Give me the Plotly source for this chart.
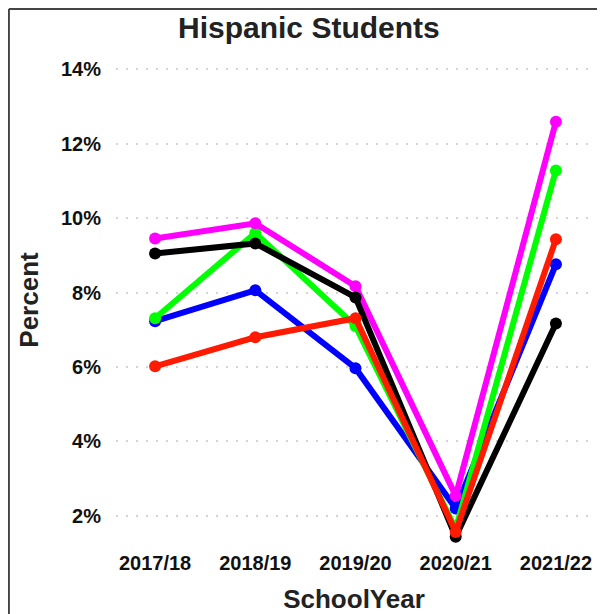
import plotly.graph_objects as go

school_years = ["2017/18", "2018/19", "2019/20", "2020/21", "2021/22"]

blue_vals = [7.23, 8.06, 5.97, 2.20, 8.76]
green_vals = [7.31, 9.60, 7.10, 1.65, 11.28]
magenta_vals = [9.45, 9.86, 8.17, 2.54, 12.59]
black_vals = [9.05, 9.32, 7.87, 1.44, 7.17]
red_vals = [6.02, 6.80, 7.31, 1.57, 9.43]

series = [
    ("Series B", blue_vals, "#0000ff"),
    ("Series G", green_vals, "#00ff00"),
    ("Series M", magenta_vals, "#ff00ff"),
    ("Series K", black_vals, "#000000"),
    ("Series R", red_vals, "#ff1a00"),
]

FONT = "Liberation Sans, Arial, sans-serif"

fig = go.Figure()
for name, vals, color in series:
    fig.add_trace(
        go.Scatter(
            x=school_years,
            y=vals,
            name=name,
            mode="lines+markers",
            line=dict(color=color, width=6),
            marker=dict(color=color, size=12),
        )
    )

fig.update_layout(
    width=597,
    height=606,
    showlegend=False,
    plot_bgcolor="white",
    paper_bgcolor="white",
    margin=dict(l=108, r=13, t=47, b=69),
    font=dict(family=FONT, color="#111111"),
    title=dict(
        text="<b>Hispanic Students</b>",
        x=0.504,
        xanchor="center",
        y=0.967,
        yanchor="middle",
        font=dict(size=30, color="#222222"),
    ),
    xaxis=dict(
        range=[-0.39, 4.36],
        showgrid=False,
        zeroline=False,
        showline=False,
        automargin=False,
        ticklabelstandoff=4,
        tickfont=dict(size=20, color="#111111", weight="bold"),
        title=dict(text="<b>SchoolYear</b>", font=dict(size=26, color="#222222"), standoff=16),
    ),
    yaxis=dict(
        range=[1.22, 14.38],
        tickvals=[2, 4, 6, 8, 10, 12, 14],
        ticktext=["2%", "4%", "6%", "8%", "10%", "12%", "14%"],
        showgrid=True,
        gridcolor="#d4d4d4",
        gridwidth=2,
        griddash="2px,8px",
        zeroline=False,
        showline=False,
        automargin=False,
        ticklabelstandoff=14,
        tickfont=dict(size=20, color="#111111", weight="bold"),
        title=dict(text="<b>Percent</b>", font=dict(size=26, color="#222222"), standoff=14),
    ),
    shapes=[
        dict(type="line", xref="paper", yref="paper",
             x0=-0.225, x1=-0.225, y0=1.094, y1=-0.2,
             line=dict(color="#444444", width=2)),
        dict(type="line", xref="paper", yref="paper",
             x0=-0.225, x1=1.03, y0=1.094, y1=1.094,
             line=dict(color="#444444", width=2)),
        dict(type="line", xref="paper", yref="paper",
             x0=1.025, x1=1.025, y0=1.094, y1=-0.2,
             line=dict(color="#dddddd", width=1)),
    ],
)

fig.write_html("out.html")
